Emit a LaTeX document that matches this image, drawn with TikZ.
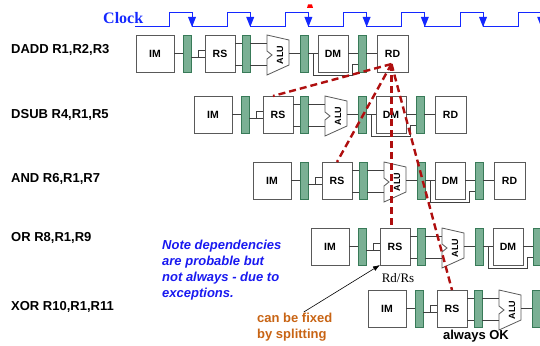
\documentclass[tikz,border=0pt]{standalone}
\usepackage{fontspec}
\setmainfont{Liberation Sans}
\newfontfamily\timesfont{Liberation Serif}
\usetikzlibrary{calc, arrows.meta}

\definecolor{latchgreen}{RGB}{122,176,148}
\definecolor{latchedge}{RGB}{56,122,88}
\definecolor{clockblue}{RGB}{20,40,255}
\definecolor{hazardred}{RGB}{175,15,15}
\definecolor{noteblue}{RGB}{25,25,240}
\definecolor{fixorange}{RGB}{200,100,20}

\begin{document}
\begin{tikzpicture}
[
    x=1pt, y=-1pt,
    % The stages of every row get names: <stage>-row
    % Rows are 1 ... 5 from the top, latches are L1 ... L4
]

%=================================== Start ===================================
\tikzstyle{stage}   = [draw=black!65, fill=white, line width=0.8pt, minimum width=30pt,
                       minimum height=37pt, inner sep=0pt, outer sep=0pt, anchor=north west,
                       font=\bfseries\fontsize{10.5}{11}\selectfont]
\tikzstyle{latch}   = [draw=latchedge, fill=latchgreen, line width=0.7pt, minimum width=8pt,
                       minimum height=37pt, inner sep=0pt, outer sep=0pt, anchor=north west]
\tikzstyle{alubody} = [minimum width=22pt, minimum height=40pt, inner sep=0pt, outer sep=0pt,
                       anchor=north west]
\tikzstyle{wire}    = [draw=black!75, line width=0.7pt]
\tikzstyle{hazard}  = [draw=hazardred, line width=2.4pt, dash pattern=on 7pt off 4pt]
\tikzstyle{instr}   = [anchor=west, inner sep=0pt, font=\bfseries\fontsize{13}{15}\selectfont]

\clip (0,0) rectangle (540,345);
{
    % Clock with its falling edges
    \node[font=\timesfont\bfseries\fontsize{16}{18}\selectfont, text=clockblue,
          anchor=base west, inner sep=0pt] (clk) at (103,24) {Clock};
    \draw[clockblue, line width=0.9pt] (135,26)
        \foreach \k in {0,...,6} {
            -- ({169+58.2*\k},26) -- ({169+58.2*\k},12)
            -- ({192+58.2*\k},12) -- ({192+58.2*\k},26)
        };
    \foreach \k in {0,...,6}
        \fill[clockblue] ({192+58.2*\k},27) -- ++(-4,-10) -- ++(8,0) -- cycle;
    \fill[red] (307,8) -- (308,4.5) -- (312,4.5) -- (313,8) -- cycle;

    % Draw the five pipelines
    % (stages that run off the right edge keep their box but no label)
    \foreach \r / \xo / \yt / \ly / \txt in {1/136/35/50/{DADD R1,R2,R3},
                                            2/194/96/115/{DSUB R4,R1,R5},
                                            3/253/162/179/{AND R6,R1,R7},
                                            4/311/228/238/{OR R8,R1,R9},
                                            5/368/290/307/{XOR R10,R1,R11}}
    {
        \node[instr] (I-\r) at (11,\ly) {\txt};
        \node[stage, minimum width=38pt] (IM-\r) at (\xo,\yt) {IM};
        \node[latch] (L1-\r) at (\xo+47,\yt) {};
        \node[stage] (RS-\r) at (\xo+69,\yt) {RS};
        \node[latch] (L2-\r) at (\xo+106,\yt) {};
        \node[alubody] (ALU-\r) at (\xo+131,\yt) {};
        \node[latch] (L3-\r) at (\xo+164,\yt) {};
        \node[stage] (DM-\r) at (\xo+182,\yt) {\ifnum\xo<340 DM\fi};
        \node[latch] (L4-\r) at (\xo+222,\yt) {};
        \node[stage, minimum width=31pt] (RD-\r) at (\xo+241,\yt) {\ifnum\xo<290 RD\fi};

        % ALU outline with the notch between the operands
        \draw[draw=black!65, fill=white, line width=0.8pt] (ALU-\r.north west)
            -- ++(22,5) -- ++(0,25) -- ++(-22,10) -- ++(0,-16) -- ++(5,-4) -- ++(-5,-4) -- cycle;
        \node[rotate=90, inner sep=0pt, font=\bfseries\fontsize{9}{10}\selectfont]
            (AL-\r) at ($(ALU-\r.center)+(2,0)$) {ALU};

        % wires between the stages
        \draw[wire] (IM-\r.east) -- (L1-\r.west);
        \draw[wire] ($(L1-\r.north east)+(0,22)$) -- ($(RS-\r.north west)+(0,22)$);
        \draw[wire] ($(L1-\r.north east)+(7,22)$) |- ($(RS-\r.north west)+(0,15)$);
        \foreach \dy in {8,30}
        {
            \draw[wire] ($(RS-\r.north east)+(0,\dy)$) -- ($(L2-\r.north west)+(0,\dy)$);
            \draw[wire] ($(L2-\r.north east)+(0,\dy)$) -- ($(ALU-\r.north west)+(0,\dy)$);
        }
        \draw[wire] ($(ALU-\r.north east)+(0,18.5)$) -- (L3-\r.west);
        \draw[wire] (L3-\r.east) -- (DM-\r.west);
        \draw[wire] ($(L3-\r.east)+(5,0)$) |- ($(L4-\r.south west)+(-6,3)$)
                    -- ($(L4-\r.south west)+(-6,-8)$) -- ($(L4-\r.south west)+(0,-8)$);
        \draw[wire] (DM-\r.east) -- (L4-\r.west);
        \draw[wire] (L4-\r.east) -- (RD-\r.west);
    }

    % Draw the dependencies on R1
    \coordinate (src) at ($(RD-1.south)+(-1,-8)$);
    \draw[hazard] (src) -- ($(RS-2.north west)+(10,0)$);
    \draw[hazard] (src) -- (RS-3.north);
    \draw[hazard] (src) -- (src |- RS-4.north);
    \draw[hazard] (src) -- (RS-5.north);

    % Notes
    \node[anchor=north west, align=left, inner sep=0pt, text=noteblue,
          font=\bfseries\itshape\fontsize{13}{16}\selectfont] (note) at (162,240)
          {Note dependencies\\are probable but\\not always - due to\\exceptions.};
    \node[anchor=north west, align=left, inner sep=0pt, text=fixorange,
          font=\bfseries\fontsize{13}{15.5}\selectfont] (fix) at (257,313)
          {can be fixed\\by splitting};
    \node[inner sep=0pt, font=\timesfont\fontsize{13}{15}\selectfont]
          (rdrs) at ($(RS-4.south)+(3,13)$) {Rd/Rs};
    \node[inner sep=0pt, font=\bfseries\fontsize{13}{15}\selectfont] (ok) at (476,336) {always OK};
    \draw[-{Latex[length=7pt,width=5pt]}, line width=0.6pt]
          ($(fix.north)+(9,-1)$) -- (RS-4.south west);
}
%==================================== END ====================================

\end{tikzpicture}
\end{document}
